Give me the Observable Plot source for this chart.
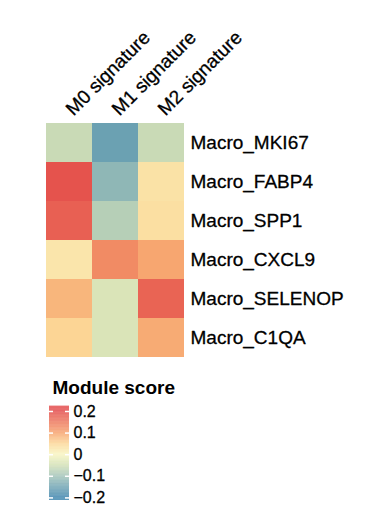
<!DOCTYPE html>
<html>
<head>
<meta charset="utf-8">
<script src="https://cdn.jsdelivr.net/npm/d3@7"></script>
<script src="https://cdn.jsdelivr.net/npm/@observablehq/plot@0.6"></script>
<style>
  html, body { margin: 0; padding: 0; background: #fff; }
  #chart svg { display: block; }
</style>
</head>
<body>
<div id="chart"></div>
<script>
const signatures = ["M0 signature", "M1 signature", "M2 signature"];
const clusters = ["Macro_MKI67", "Macro_FABP4", "Macro_SPP1", "Macro_CXCL9", "Macro_SELENOP", "Macro_C1QA"];
// module scores per cluster (rows) for M0, M1, M2
const m0Scores = [-0.06, 0.19, 0.175, 0.025, 0.08, 0.05];
const m1Scores = [-0.155, -0.12, -0.08, 0.125, -0.04, -0.04];
const m2Scores = [-0.06, 0.03, 0.035, 0.095, 0.17, 0.09];
const legendTicks = [-0.2, -0.1, 0, 0.1, 0.2];
const legendTitle = "Module score";

const colorDomain = [-0.2, -0.1, -0.05, 0, 0.05, 0.1, 0.2];
const colorRange = ["#3d84ad", "#a3c4b8", "#d3e0b6", "#f8f5c0", "#fcd595", "#f6a16c", "#e34a4a"];

const table = [];
clusters.forEach((c, i) => {
  table.push({cluster: c, signature: signatures[0], value: m0Scores[i]});
  table.push({cluster: c, signature: signatures[1], value: m1Scores[i]});
  table.push({cluster: c, signature: signatures[2], value: m2Scores[i]});
});

const font = "'Liberation Sans', Arial, sans-serif";

const main = Plot.plot({
  width: 370,
  height: 360,
  marginTop: 120,
  marginBottom: 1,
  marginLeft: 46,
  marginRight: 186,
  style: {fontFamily: font, fontSize: "19px", color: "#000", background: "#fff"},
  x: {domain: signatures, padding: 0, axis: null},
  y: {domain: clusters, padding: 0, axis: null},
  color: {type: "linear", domain: colorDomain, range: colorRange, clamp: true},
  marks: [
    Plot.cell(table, {x: "signature", y: "cluster", fill: "value"}),
    Plot.text(clusters, {
      y: d => d, frameAnchor: "right", textAnchor: "start", dx: 6,
      fontSize: 19, fill: "#000", stroke: "#000", strokeWidth: 0.3
    }),
    Plot.text(signatures, {
      x: d => d, frameAnchor: "top", textAnchor: "start", lineAnchor: "bottom",
      rotate: -45, dx: 4, dy: -4, fontSize: 19, fill: "#000", stroke: "#000", strokeWidth: 0.3
    })
  ]
});

const steps = d3.range(-0.212, 0.223, 0.002);
const legend = Plot.plot({
  width: 370,
  height: 157,
  marginTop: 46,
  marginBottom: 17,
  marginLeft: 49,
  marginRight: 301,
  style: {fontFamily: font, color: "#000", background: "#fff", overflow: "visible"},
  x: {domain: [0, 1], axis: null},
  y: {domain: [-0.212, 0.223], axis: null},
  color: {type: "linear", domain: colorDomain, range: colorRange, clamp: true},
  marks: [
    Plot.rect(steps, {x1: 0, x2: 1, y1: d => d, y2: d => d + 0.0025, fill: d => d}),
    Plot.ruleY(legendTicks, {x1: 0, x2: 0.2, stroke: "#fff", strokeWidth: 1.5}),
    Plot.ruleY(legendTicks, {x1: 0.8, x2: 1, stroke: "#fff", strokeWidth: 1.5}),
    Plot.text(legendTicks, {
      x: 1, y: d => d, dx: 4, textAnchor: "start", fontSize: 16, fill: "#000",
      stroke: "#000", strokeWidth: 0.3,
      text: d => d === 0 ? "0" : d3.format(".1f")(d).replace("-", "\u2212")
    }),
    Plot.text([legendTitle], {
      frameAnchor: "top-left", dx: 3, dy: -13, textAnchor: "start", lineAnchor: "bottom",
      fontSize: 19, fontWeight: "bold", fill: "#000"
    })
  ]
});

const el = document.getElementById("chart");
el.appendChild(main);
el.appendChild(legend);
</script>
</body>
</html>
